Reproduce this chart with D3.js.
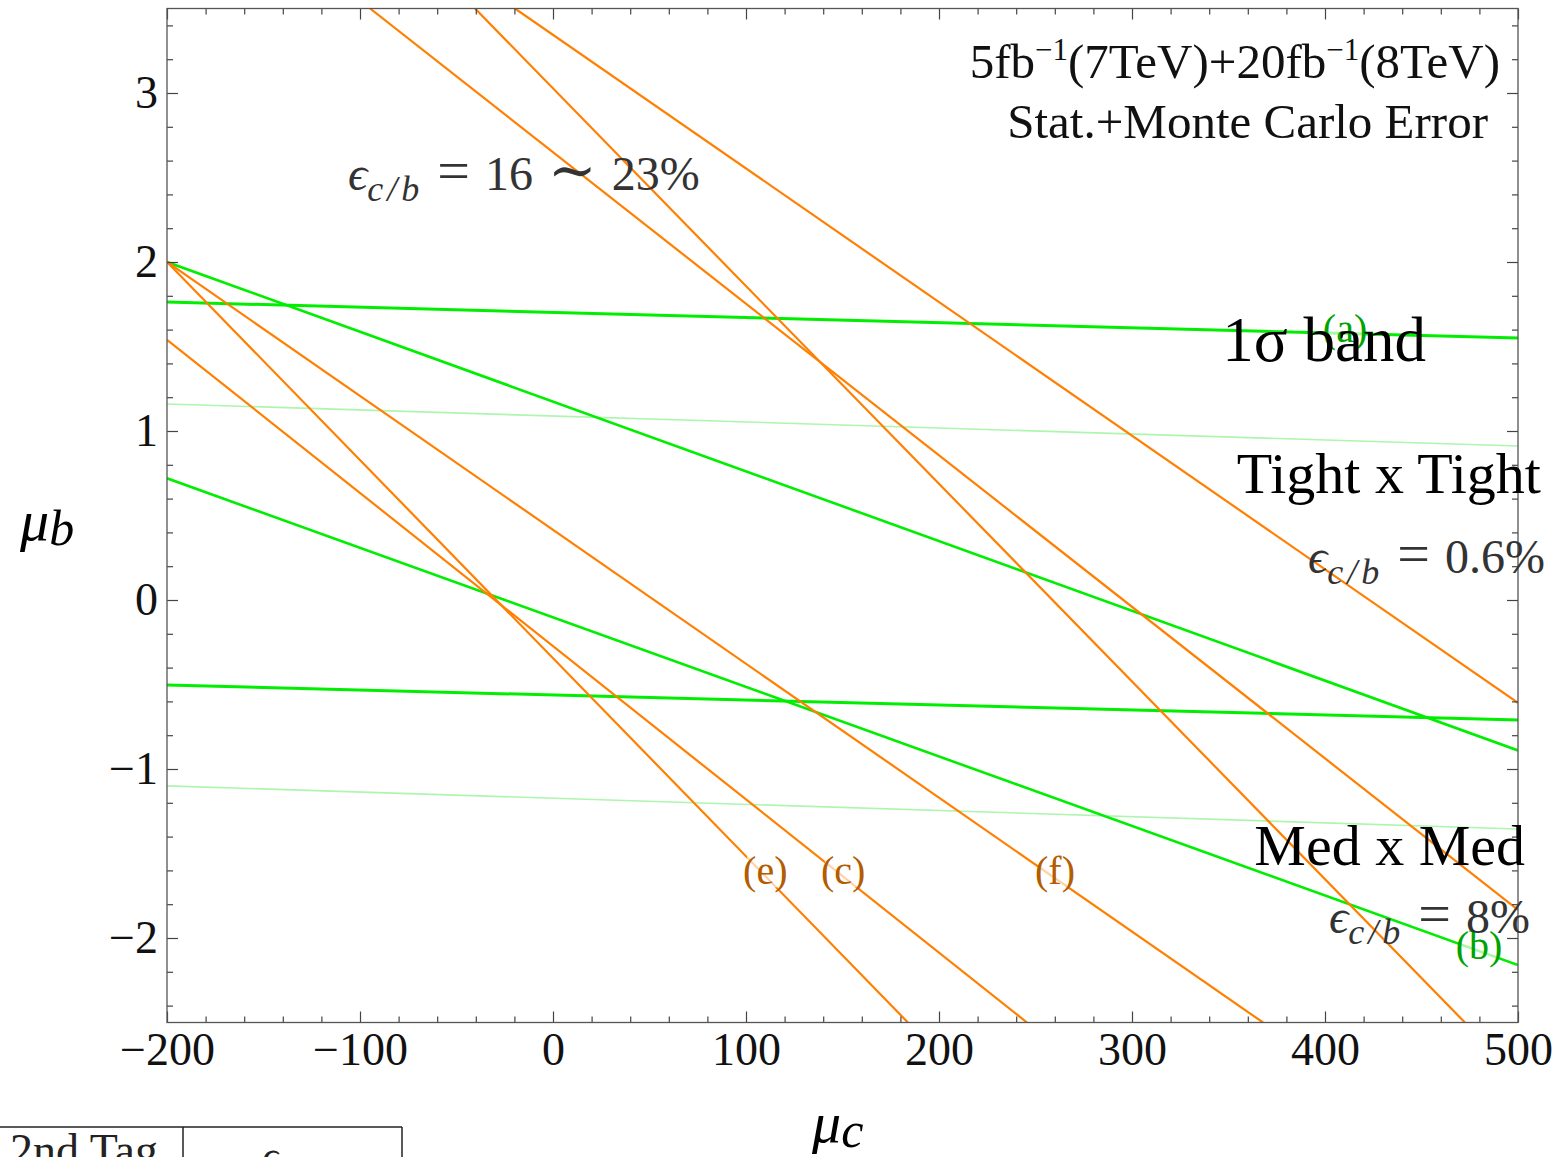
<!DOCTYPE html>
<html>
<head>
<meta charset="utf-8">
<script src="https://cdn.jsdelivr.net/npm/d3@7"></script>
<style>
  html, body { margin: 0; padding: 0; background: #fff; }
  svg { display: block; }
  text { font-family: "Liberation Serif", "Times New Roman", "DejaVu Serif", serif; }
</style>
</head>
<body>
<svg id="chart" width="1558" height="1157"></svg>
<script>
// axis ticks
const X_TICKS = [-200, -100, 0, 100, 200, 300, 400, 500];
const Y_TICKS = [-2, -1, 0, 1, 2, 3];

// each line is [x1, y1, x2, y2] in (mu_c, mu_b)
const BAND_A = [[-200, 1.763, 500, 1.550], [-200, -0.503, 500, -0.710]];
const BAND_B = [[-200, 2.0, 500, -0.89], [-200, 0.72, 500, -2.16]];
const BAND_LIGHT = [[-200, 1.160, 500, 0.911], [-200, -1.100, 500, -1.355]];
const BAND_C = [[-200, 1.54, 245.6, -2.5], [-94.8, 3.5, 500, -1.834]];
const BAND_E = [[-200, 2.0, 183.9, -2.5], [-40.4, 3.5, 472.5, -2.5]];
const BAND_F = [[-200, 2.0, 367.9, -2.5], [-19.7, 3.5, 500, -0.609]];

// line labels: [text, x, y]
const ORANGE_LABELS = [["(e)", 110, -1.6], ["(c)", 150.3, -1.6], ["(f)", 260.1, -1.6]];
const GREEN_LABELS = [["(a)", 410.4, 1.61], ["(b)", 479.8, -2.04]];

// efficiency annotations: [tokens after "=", x, baseline, anchor]
const EPS_NOTES = [
  [["16", "\u223c", "23%"], 348, 190, "start"],
  [["0.6%"], 1545, 573, "end"],
  [["8%"], 1530, 933, "end"]
];

const ORANGE = "#ff7f00";
const GREEN = "#00ee00";
const LIGHT_GREEN = "#aef5ae";

const svg = d3.select("#chart");
const plotLeft = 167, plotRight = 1518, plotTop = 8.5, plotBottom = 1022.5;

const x = d3.scaleLinear().domain([-200, 500]).range([plotLeft, plotRight]);
const y = d3.scaleLinear().domain([-2.5, 3.5]).range([plotBottom, plotTop]);

const fmt = d => d < 0 ? "\u2212" + Math.abs(d) : String(d);
const minorX = d3.range(-200, 501, 20).filter(v => v % 100 !== 0);
const minorY = d3.range(-24, 35, 2).map(v => v / 10).filter(v => Math.abs(v - Math.round(v)) > 1e-6);

svg.append("clipPath").attr("id", "plot-clip")
  .append("rect")
  .attr("x", plotLeft).attr("y", plotTop)
  .attr("width", plotRight - plotLeft).attr("height", plotBottom - plotTop);

// lines
const lineGroup = svg.append("g").attr("clip-path", "url(#plot-clip)");

function drawLines(lines, color, width) {
  lineGroup.selectAll(null)
    .data(lines)
    .join("line")
    .attr("x1", d => x(d[0])).attr("y1", d => y(d[1]))
    .attr("x2", d => x(d[2])).attr("y2", d => y(d[3]))
    .attr("stroke", color)
    .attr("stroke-width", width);
}

drawLines(BAND_LIGHT, LIGHT_GREEN, 1.6);
drawLines(BAND_A, GREEN, 3);
drawLines(BAND_B, GREEN, 2.6);
drawLines(BAND_C, ORANGE, 2.2);
drawLines(BAND_E, ORANGE, 2.2);
drawLines(BAND_F, ORANGE, 2.2);

// axes, ticks pointing inward on all four sides
function styleAxis(g) {
  g.select(".domain").remove();
  g.selectAll(".tick line").attr("stroke", "#444").attr("stroke-width", 1.2);
  g.selectAll("text")
    .attr("fill", "#111")
    .style("font-size", "46px")
    .style("font-family", "'Liberation Serif', 'Times New Roman', serif");
}

svg.append("g").attr("transform", `translate(0,${plotBottom})`)
  .call(d3.axisBottom(x).tickValues(X_TICKS).tickFormat(fmt).tickSizeInner(-11).tickSizeOuter(0).tickPadding(10))
  .call(styleAxis);
svg.append("g").attr("transform", `translate(0,${plotBottom})`)
  .call(d3.axisBottom(x).tickValues(minorX).tickFormat("").tickSizeInner(-6).tickSizeOuter(0))
  .call(styleAxis);
svg.append("g").attr("transform", `translate(0,${plotTop})`)
  .call(d3.axisTop(x).tickValues(X_TICKS).tickFormat("").tickSizeInner(-11).tickSizeOuter(0))
  .call(styleAxis);
svg.append("g").attr("transform", `translate(0,${plotTop})`)
  .call(d3.axisTop(x).tickValues(minorX).tickFormat("").tickSizeInner(-6).tickSizeOuter(0))
  .call(styleAxis);

svg.append("g").attr("transform", `translate(${plotLeft},0)`)
  .call(d3.axisLeft(y).tickValues(Y_TICKS).tickFormat(fmt).tickSizeInner(-11).tickSizeOuter(0).tickPadding(9))
  .call(styleAxis);
svg.append("g").attr("transform", `translate(${plotLeft},0)`)
  .call(d3.axisLeft(y).tickValues(minorY).tickFormat("").tickSizeInner(-6).tickSizeOuter(0))
  .call(styleAxis);
svg.append("g").attr("transform", `translate(${plotRight},0)`)
  .call(d3.axisRight(y).tickValues(Y_TICKS).tickFormat("").tickSizeInner(-11).tickSizeOuter(0))
  .call(styleAxis);
svg.append("g").attr("transform", `translate(${plotRight},0)`)
  .call(d3.axisRight(y).tickValues(minorY).tickFormat("").tickSizeInner(-6).tickSizeOuter(0))
  .call(styleAxis);

svg.append("rect")
  .attr("x", plotLeft).attr("y", plotTop)
  .attr("width", plotRight - plotLeft).attr("height", plotBottom - plotTop)
  .attr("fill", "none").attr("stroke", "#555").attr("stroke-width", 1.3);

// labels on the lines, with a pale backing so the line fades behind them
function lineLabels(labels, color) {
  const g = svg.append("g");
  labels.forEach(([txt, lx, ly]) => {
    const t = g.append("text")
      .attr("x", x(lx)).attr("y", y(ly))
      .attr("text-anchor", "middle")
      .attr("dy", "0.35em")
      .attr("fill", color)
      .style("font-size", "40px")
      .text(txt);
    const bb = t.node().getBBox();
    g.insert("rect", "text")
      .attr("x", bb.x + 4).attr("y", bb.y + 6)
      .attr("width", bb.width - 8).attr("height", bb.height - 12)
      .attr("fill", "#fff").attr("fill-opacity", 0.65);
  });
}
lineLabels(ORANGE_LABELS, "#b35c00");
lineLabels(GREEN_LABELS, "#00a300");

// epsilon annotations, spaced the way TeX spaces relations
EPS_NOTES.forEach(([tokens, px, py, anchor]) => {
  const t = svg.append("text")
    .attr("x", px).attr("y", py)
    .attr("text-anchor", anchor)
    .attr("fill", "#333")
    .style("font-size", "48px");
  t.append("tspan").style("font-style", "italic")
    .style("font-family", "'Liberation Serif', 'DejaVu Serif', serif").text("\u03f5");
  t.append("tspan").attr("dy", 11).style("font-style", "italic").style("font-size", "36px")
    .style("letter-spacing", "4px").text("c/b");
  t.append("tspan").attr("dy", -11).attr("dx", 14).style("font-size", "58px").text("=");
  tokens.forEach(tok => {
    const rel = tok === "\u223c";
    t.append("tspan").attr("dx", 15).style("font-size", rel ? "58px" : "48px").text(tok);
  });
});

// luminosity box
const lumi = svg.append("text").attr("x", 1500).attr("y", 78).attr("text-anchor", "end")
  .attr("fill", "#111").style("font-size", "49px");
lumi.append("tspan").text("5fb");
lumi.append("tspan").attr("dy", -18).style("font-size", "31px").text("\u22121");
lumi.append("tspan").attr("dy", 18).text("(7TeV)+20fb");
lumi.append("tspan").attr("dy", -18).style("font-size", "31px").text("\u22121");
lumi.append("tspan").attr("dy", 18).text("(8TeV)");

svg.append("text").attr("x", 1488).attr("y", 138).attr("text-anchor", "end")
  .attr("fill", "#111").style("font-size", "49px").text("Stat.+Monte Carlo Error");

// region titles
const titles = [["1\u03c3 band", 1426, 361, 63], ["Tight x Tight", 1541, 493, 58], ["Med x Med", 1525, 865, 58]];
svg.selectAll(null).data(titles).join("text")
  .attr("x", d => d[1]).attr("y", d => d[2])
  .attr("text-anchor", "end")
  .attr("fill", "#000")
  .style("font-size", d => d[3] + "px")
  .text(d => d[0]);

// axis titles
const yTitle = svg.append("text").attr("x", 20).attr("y", 540).attr("fill", "#000")
  .style("font-size", "58px").style("font-style", "italic");
yTitle.append("tspan").text("\u03bc");
yTitle.append("tspan").attr("dy", 5).style("font-size", "50px").text("b");

const xTitle = svg.append("text").attr("x", 812).attr("y", 1142).attr("fill", "#000")
  .style("font-size", "58px").style("font-style", "italic");
xTitle.append("tspan").text("\u03bc");
xTitle.append("tspan").attr("dy", 5).style("font-size", "50px").text("c");

// start of the table below the plot, cut off by the page edge
const tbl = svg.append("g").attr("stroke", "#222").attr("stroke-width", 1.5);
tbl.append("line").attr("x1", 0).attr("y1", 1127).attr("x2", 402).attr("y2", 1127);
tbl.append("line").attr("x1", 183).attr("y1", 1127).attr("x2", 183).attr("y2", 1157);
tbl.append("line").attr("x1", 402).attr("y1", 1127).attr("x2", 402).attr("y2", 1157);
svg.append("text").attr("x", 10).attr("y", 1166).attr("fill", "#222")
  .style("font-size", "46px").text("2nd Tag");
const tEps = svg.append("text").attr("x", 262).attr("y", 1170).attr("fill", "#222")
  .style("font-size", "40px").style("font-style", "italic");
tEps.append("tspan").text("\u03f5");
tEps.append("tspan").attr("dy", 8).style("font-size", "28px").text("c/b");
</script>
</body>
</html>
